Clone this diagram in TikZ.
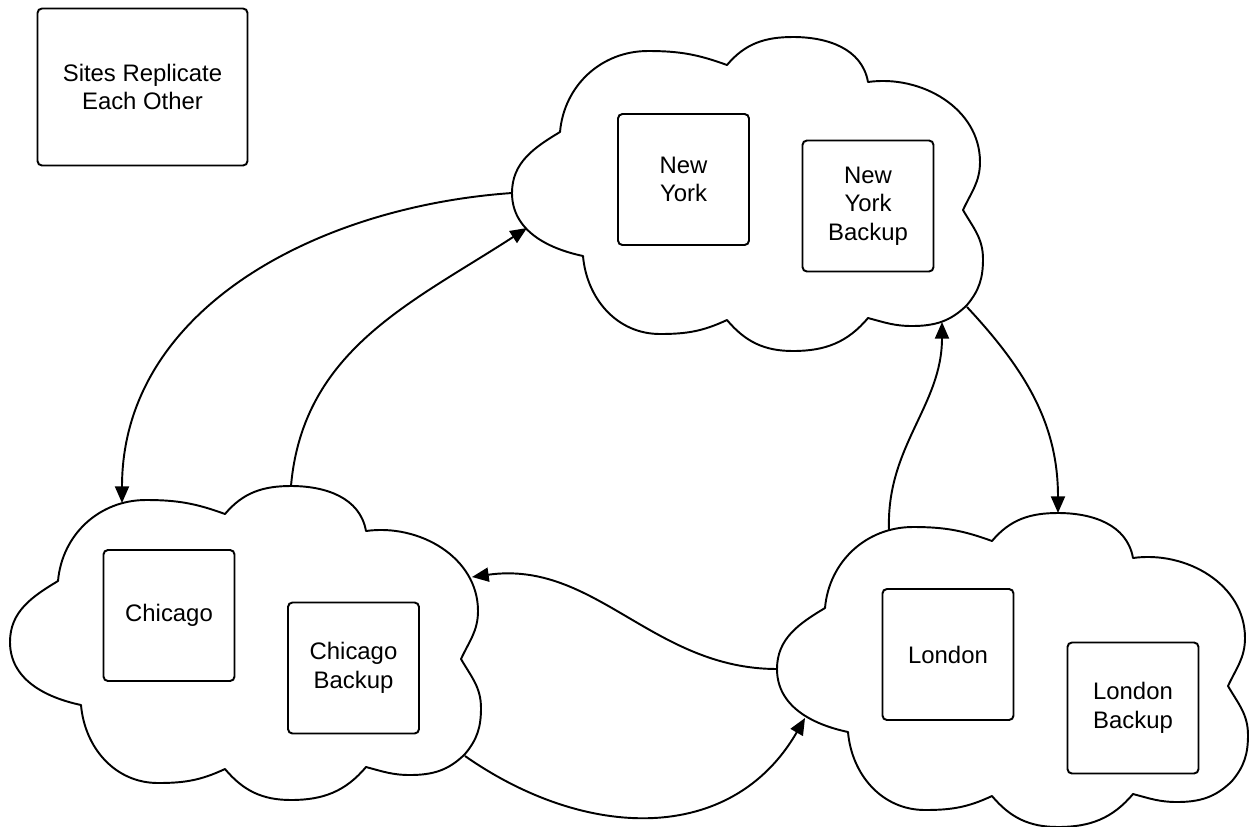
\documentclass[tikz,border=0pt]{standalone}
\usepackage{fontspec}
\setmainfont{Liberation Sans}
\usetikzlibrary{arrows.meta}

\tikzset{
  cloudline/.style={draw=black,fill=white,line width=1.1pt,line join=round},
  sitebox/.style={draw,fill=white,line width=1.1pt,rounded corners=2.5pt,
    minimum width=2.62cm,minimum height=2.62cm,align=center,inner sep=2pt,
    font=\fontsize{13.6}{16.3}\selectfont},
  link/.style={line width=1.1pt,-{Triangle[length=9.5pt,width=8pt]}},
  sitecloud/.pic={
    \path[cloudline] (71,-219) to[out=168,in=270] (0,-156) to[out=90,in=211] (48,-95)
      to[out=85,in=180] (136,-14) to[out=0,in=160] (215,-28)
      to[out=50,in=180] (281,0) to[out=0,in=100] (356,-45)
      to[out=8,in=90] (468,-125) to[out=270,in=65] (451,-173)
      to[out=300,in=90] (471,-222) to[out=270,in=50] (455,-268)
      to[out=225,in=0] (400,-289) to[out=180,in=345] (356,-281)
      to[out=230,in=0] (281,-314) to[out=180,in=310] (215,-283)
      to[out=205,in=0] (148,-297) to[out=180,in=275] (71,-219) -- cycle;
    \coordinate (-w) at (0,-156);
    \coordinate (-n) at (281,0);
    \coordinate (-nw) at (112,-17);
    \coordinate (-wsw) at (15,-191);
    \coordinate (-sw) at (28,-205);
    \coordinate (-se) at (455,-270);
    \coordinate (-sse) at (430,-285);
    \coordinate (-ene) at (462,-91);
  }
}

\begin{document}
\begin{tikzpicture}[x=0.02cm,y=0.02cm]
  \useasboundingbox (0,0) rectangle (1249,-826);
  \node[sitebox,minimum width=4.2cm,minimum height=3.14cm] (legend) at (142.5,-87) {Sites Replicate\\Each Other};

  \pic (ny) at (512,-37) {sitecloud};
  \pic (chi) at (10,-486) {sitecloud};
  \pic (lon) at (777,-513) {sitecloud};

  \node[sitebox] (nyc) at (683.5,-179.5) {New\\York};
  \node[sitebox] (nycb) at (868,-206) {New\\York\\Backup};
  \node[sitebox] (chic) at (169,-615.5) {Chicago};
  \node[sitebox] (chicb) at (353.5,-668) {Chicago\\Backup};
  \node[sitebox] (lond) at (948,-654.5) {London};
  \node[sitebox] (londb) at (1133,-708) {London\\Backup};

  \draw[link] (ny-w) to[out=184,in=90] (chi-nw);
  \draw[link] (chi-n) to[out=85,in=213] (ny-wsw);
  \draw[link] (ny-se) to[out=313,in=90] (lon-n);
  \draw[link] (lon-nw) to[out=92,in=270] (ny-sse);
  \draw[link] (lon-w) to[out=180,in=8] (chi-ene);
  \draw[link] (chi-se) to[out=325,in=240,looseness=1.1] (lon-sw);
\end{tikzpicture}
\end{document}
